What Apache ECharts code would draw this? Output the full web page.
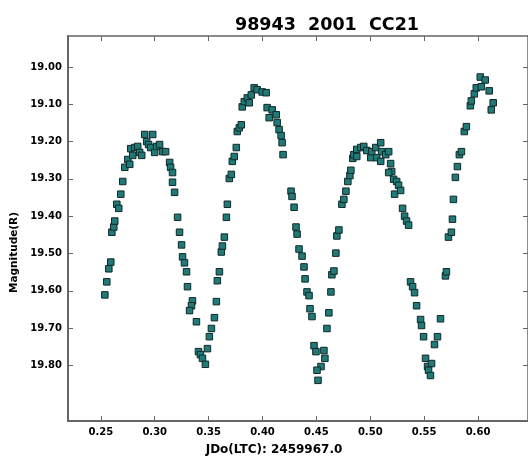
<!DOCTYPE html>
<html><head><meta charset="utf-8">
<script src="https://cdn.jsdelivr.net/npm/echarts@6/dist/echarts.min.js"></script>
<style>html,body{margin:0;padding:0;background:#fff}#c{width:528px;height:461px}</style>
</head><body><div id="c"></div>
<script>
const titleText = '98943  2001  CC21';
const xName = 'JDo(LTC): 2459967.0';
const yName = 'Magnitude(R)';
const xTicks = [0.25, 0.30, 0.35, 0.40, 0.45, 0.50, 0.55, 0.60];
const yTicks = [19.0, 19.1, 19.2, 19.3, 19.4, 19.5, 19.6, 19.7, 19.8];
const jd = [
0.2537,0.2555,0.2574,0.2592,0.2602,0.2620,0.2629,0.2648,0.2666,0.2685,0.2703,0.2722,0.2750,0.2768,0.2777,0.2796,0.2814,0.2842,0.2860,0.2879,0.2907,0.2925,0.2943,0.2962,0.2981,0.2999,0.3018,0.3045,0.3073,0.3101,
0.3138,0.3147,0.3165,0.3165,0.3184,0.3212,0.3230,0.3249,0.3258,0.3276,0.3295,0.3304,0.3350,0.3341,0.3323,0.3387,0.3406,0.3424,0.3443,0.3470,
0.3489,0.3507,0.3526,0.3554,0.3572,0.3581,0.3600,0.3618,0.3628,0.3646,0.3665,0.3674,0.3692,0.3711,0.3720,0.3738,0.3757,0.3766,0.3785,0.3803,
0.3812,0.3831,0.3859,0.3877,0.3896,0.3923,0.3951,0.3997,0.4034,
0.4043,0.4062,0.4090,0.4127,0.4136,0.4154,0.4173,0.4182,0.4191,0.4265,0.4274,0.4293,0.4311,0.4321,0.4339,0.4367,0.4385,0.4395,0.4413,0.4432,0.4441,0.4459,0.4478,0.4496,0.4543,0.4506,0.4515,0.4570,0.4579,
0.4598,0.4616,0.4635,0.4644,0.4663,0.4681,0.4690,0.4709,0.4737,0.4755,0.4774,0.4792,0.4811,0.4820,0.4838,0.4848,0.4875,0.4875,0.4912,0.4940,0.4968,0.5005,0.5014,0.5051,0.5060,0.5097,0.5106,0.5097,0.5143,0.5171,0.5189,0.5199,0.5171,0.5217,0.5226,0.5245,0.5263,0.5282,0.5300,0.5319,0.5337,0.5356,
0.5374,0.5393,0.5411,0.5430,0.5467,0.5476,0.5495,0.5513,0.5532,0.5569,0.5541,0.5559,0.5596,0.5624,0.5652,
0.5698,0.5707,0.5726,0.5753,0.5763,0.5772,0.5790,0.5809,0.5827,0.5846,0.5873,0.5892,0.5929,0.5938,0.5966,0.5984,0.6021,0.6067,0.6031,0.6104,0.6141,0.6123
];
const mag = [
19.611,19.576,19.541,19.523,19.443,19.429,19.413,19.368,19.379,19.341,19.307,19.269,19.248,19.261,19.219,19.237,19.216,19.213,19.229,19.237,19.181,19.200,19.208,19.216,19.181,19.229,19.213,19.208,19.227,19.227,
19.256,19.269,19.283,19.309,19.336,19.403,19.443,19.477,19.509,19.525,19.549,19.589,19.627,19.640,19.653,19.683,19.763,19.771,19.781,19.797,
19.755,19.723,19.701,19.672,19.629,19.573,19.549,19.496,19.480,19.456,19.403,19.368,19.299,19.288,19.253,19.240,19.216,19.173,19.163,19.155,
19.107,19.093,19.083,19.096,19.075,19.056,19.061,19.067,19.069,
19.109,19.136,19.115,19.128,19.149,19.168,19.184,19.203,19.235,19.333,19.347,19.376,19.429,19.448,19.488,19.507,19.536,19.568,19.603,19.613,19.648,19.669,19.747,19.763,19.803,19.813,19.840,19.760,19.781,
19.701,19.659,19.603,19.557,19.547,19.499,19.453,19.437,19.368,19.355,19.333,19.307,19.291,19.277,19.245,19.235,19.240,19.221,19.216,19.213,19.224,19.243,19.227,19.216,19.243,19.203,19.227,19.253,19.235,19.227,19.259,19.280,19.283,19.301,19.341,19.307,19.317,19.331,19.379,19.400,19.413,19.424,
19.576,19.589,19.605,19.640,19.677,19.693,19.723,19.781,19.803,19.795,19.813,19.827,19.744,19.723,19.675,
19.560,19.549,19.456,19.443,19.408,19.355,19.296,19.267,19.235,19.227,19.173,19.160,19.104,19.091,19.072,19.056,19.027,19.035,19.053,19.064,19.096,19.115
];
const points = jd.map((x, i) => [x, mag[i]]);
const font = 'DejaVu Sans';
const axisCol = '#666';
const chart = echarts.init(document.getElementById('c'), null, {renderer: 'canvas'});
const baseX = {
  type: 'value', min: 0.2195, max: 0.6464,
  splitLine: {show: false},
  axisLine: {show: true, onZero: false, lineStyle: {color: axisCol, width: 2}},
  axisTick: {show: true, inside: true, length: 5, customValues: xTicks, lineStyle: {color: axisCol, width: 1}},
};
const baseY = {
  type: 'value', min: 18.917, max: 19.949, inverse: true,
  splitLine: {show: false},
  axisLine: {show: true, onZero: false, lineStyle: {color: axisCol, width: 2}},
  axisTick: {show: true, inside: true, length: 5, customValues: yTicks, lineStyle: {color: axisCol, width: 1}},
};
chart.setOption({
  animation: false,
  backgroundColor: '#fff',
  title: {text: titleText, left: 322, top: 11, textAlign: 'center',
    textStyle: {fontFamily: font, fontWeight: 'bold', fontSize: 17.5, color: '#000'}},
  grid: {left: 68, top: 36, right: -2, bottom: 38, containLabel: false},
  xAxis: [
    Object.assign({}, baseX, {position: 'bottom',
      name: xName, nameLocation: 'middle', nameGap: 23,
      nameTextStyle: {fontFamily: font, fontWeight: 'bold', fontSize: 12, color: '#000', padding: [0, 48, 0, 0]},
      axisLabel: {show: true, customValues: xTicks, margin: 6, formatter: v => v.toFixed(2),
        fontFamily: font, fontWeight: 'bold', fontSize: 10, color: '#000'}}),
    Object.assign({}, baseX, {position: 'top', axisLabel: {show: false},
      axisLine: {show: true, onZero: false, lineStyle: {color: axisCol, width: 1.5}}})
  ],
  yAxis: [
    Object.assign({}, baseY, {position: 'left',
      name: yName, nameLocation: 'middle', nameGap: 43, nameRotate: 90,
      nameTextStyle: {fontFamily: font, fontWeight: 'bold', fontSize: 10.5, color: '#000', padding: [0, 48, 0, 0]},
      axisLabel: {show: true, customValues: yTicks, margin: 6, formatter: v => v.toFixed(2),
        fontFamily: font, fontWeight: 'bold', fontSize: 10, color: '#000'}}),
    Object.assign({}, baseY, {position: 'right', axisLabel: {show: false},
      axisLine: {show: true, onZero: false, lineStyle: {color: axisCol, width: 1.5}}})
  ],
  series: [{
    type: 'scatter', xAxisIndex: 0, yAxisIndex: 0,
    symbol: 'rect', symbolSize: 6.5,
    itemStyle: {color: '#217a77', borderColor: '#0f2828', borderWidth: 1, opacity: 1},
    data: points
  }]
});
</script></body></html>
